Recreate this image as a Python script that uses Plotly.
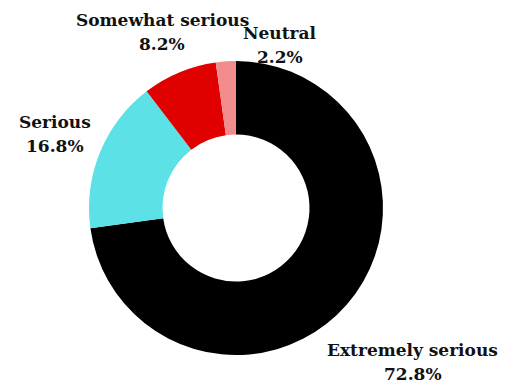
import math
import plotly.graph_objects as go

labels = ["Extremely serious", "Serious", "Somewhat serious", "Neutral"]
values = [72.8, 16.8, 8.2, 2.2]
colors = ["#000000", "#5ce1e6", "#e00000", "#f28b8b"]

W, H = 509, 388
ML, MR, MT, MB = 89, 126, 61, 33
PW, PH = W - ML - MR, H - MT - MB
CX, CY = ML + PW / 2, MT + PH / 2
R = min(PW, PH) / 2
FS = 17
CHAR_W = 0.6 * FS
LINE_GAP = 24
GAP = 18
VBIAS = 6

fig = go.Figure(go.Pie(
    labels=labels,
    values=values,
    hole=0.5,
    sort=False,
    direction="clockwise",
    rotation=0,
    marker=dict(colors=colors, line=dict(width=0)),
    textinfo="none",
    hoverinfo="label+percent",
    showlegend=False,
))

def to_paper(px, py):
    return (px - ML) / PW, (H - MB - py) / PH

total = sum(values)
cum = 0
boxes = []
annotations = []
for lab, val in zip(labels, values):
    mid = (cum + val / 2) / total * 2 * math.pi
    cum += val
    dx, dy = math.sin(mid), -math.cos(mid)
    txt2 = f"{val:.1f}%"
    hw = max(len(lab), len(txt2)) * CHAR_W / 2
    hh = 24
    d = R + GAP + abs(dx) * hw + dy * VBIAS
    lx, ly = CX + dx * d, CY + dy * d
    # simple overlap avoidance: push label to the right of the previous one
    for (bx0, bx1, by0, by1) in boxes:
        if lx - hw < bx1 and lx + hw > bx0 and ly - hh < by1 and ly + hh > by0:
            lx = bx1 + hw
            ly = ly - 2
    boxes.append((lx - hw, lx + hw, ly - hh, ly + hh))
    for k, t in enumerate([lab, txt2]):
        x, y = to_paper(lx, ly + (k - 0.5) * LINE_GAP)
        annotations.append(dict(
            x=x, y=y, xref="paper", yref="paper",
            text=f"<b>{t}</b>", showarrow=False,
            xanchor="center", yanchor="middle",
            font=dict(family="DejaVu Serif", size=FS, color="#111111"),
        ))

fig.update_layout(
    width=W, height=H,
    margin=dict(l=ML, r=MR, t=MT, b=MB),
    paper_bgcolor="white",
    plot_bgcolor="white",
    annotations=annotations,
)
fig.write_html("out.html", config={"displayModeBar": False},
               post_script="document.body.style.margin='0';")
